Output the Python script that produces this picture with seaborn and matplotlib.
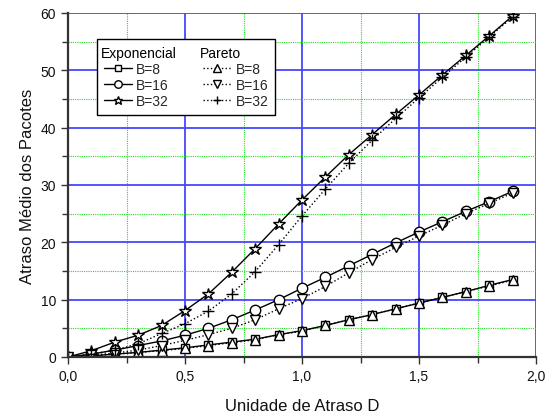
import numpy as np
import pandas as pd
import matplotlib
matplotlib.use("Agg")
import matplotlib.pyplot as plt
from matplotlib.lines import Line2D
from matplotlib.ticker import MultipleLocator, FuncFormatter
import seaborn as sns

# Delay unit D
delay_unit = [0.0, 0.1, 0.2, 0.3, 0.4, 0.5, 0.6, 0.7, 0.8, 0.9,
              1.0, 1.1, 1.2, 1.3, 1.4, 1.5, 1.6, 1.7, 1.8, 1.9]

# Mean packet delay, exponential traffic
exp_b8 = [0.0, 0.2, 0.5, 0.8, 1.2, 1.6, 2.1, 2.6, 3.1, 3.9,
          4.6, 5.5, 6.5, 7.4, 8.4, 9.4, 10.4, 11.4, 12.5, 13.5]
exp_b16 = [0.0, 0.5, 1.2, 2.0, 2.8, 3.8, 5.0, 6.5, 8.2, 10.0,
           12.0, 13.9, 15.9, 17.9, 19.9, 21.8, 23.6, 25.4, 27.1, 28.9]
exp_b32 = [0.0, 1.1, 2.6, 3.8, 5.5, 8.1, 11.0, 14.8, 18.9, 23.2,
           27.4, 31.4, 35.3, 38.8, 42.3, 45.7, 49.2, 52.6, 56.0, 59.5]

# Mean packet delay, Pareto traffic
par_b8 = [0.0, 0.2, 0.5, 0.8, 1.1, 1.5, 2.0, 2.5, 3.0, 3.9,
          4.5, 5.5, 6.5, 7.4, 8.4, 9.4, 10.4, 11.4, 12.4, 13.4]
par_b16 = [0.0, 0.3, 0.7, 1.2, 2.0, 2.9, 3.9, 5.0, 6.5, 8.4,
           10.2, 12.3, 14.7, 17.0, 19.1, 21.1, 23.0, 25.0, 26.8, 28.6]
par_b32 = [0.0, 0.5, 1.2, 2.3, 4.1, 5.8, 8.0, 11.0, 14.9, 19.6,
           24.6, 29.3, 33.8, 37.8, 41.6, 45.2, 48.8, 52.3, 55.8, 59.3]

buffer_labels = ["B=8", "B=16", "B=32"]
headers = ["Exponencial", "Pareto"]
x_label = "Unidade de Atraso D"
y_label = "Atraso Médio dos Pacotes"

sns.set_theme(style="white")
plt.rcParams["font.family"] = ["Liberation Sans", "DejaVu Sans"]

fig = plt.figure(figsize=(5.48, 4.14), dpi=100)
ax = fig.add_axes([68 / 548, 56 / 414, 468 / 548, 344 / 414])

series = [
    (exp_b8, "s", "-", 6.0),
    (exp_b16, "o", "-", 7.5),
    (exp_b32, "*", "-", 9.0),
    (par_b8, "^", ":", 7.5),
    (par_b16, "v", ":", 7.5),
    (par_b32, "+", ":", 8.0),
]

for vals, mk, ls, ms in series:
    df = pd.DataFrame({"D": delay_unit, "atraso": vals})
    sns.lineplot(data=df, x="D", y="atraso", ax=ax, color="black",
                 linestyle=ls, linewidth=1.0, marker=mk, markersize=ms,
                 markerfacecolor="white", markeredgecolor="black",
                 markeredgewidth=1.0, zorder=3, legend=False)

ax.set_xlim(0, 2.0)
ax.set_ylim(0, 60)
ax.xaxis.set_major_locator(MultipleLocator(0.5))
ax.xaxis.set_minor_locator(MultipleLocator(0.25))
ax.yaxis.set_major_locator(MultipleLocator(10))
ax.yaxis.set_minor_locator(MultipleLocator(5))
ax.xaxis.set_major_formatter(FuncFormatter(lambda v, p: f"{v:.1f}".replace(".", ",")))
ax.yaxis.set_major_formatter(FuncFormatter(lambda v, p: f"{v:.0f}"))

ax.grid(True, which="major", color="#4646ff", linewidth=1.3, linestyle="-")
ax.grid(True, which="minor", color="#22dd22", linewidth=0.8, linestyle=(0, (1, 1)))
ax.set_axisbelow(True)

for side in ["top", "right"]:
    ax.spines[side].set_visible(False)
for side in ["left", "bottom"]:
    ax.spines[side].set_color("#333333")
    ax.spines[side].set_linewidth(1.6)
    ax.spines[side].set_zorder(4)

ax.tick_params(which="major", direction="out", length=5, width=1.0,
               color="#333333", labelsize=10, labelcolor="#111111",
               bottom=True, left=True)
ax.tick_params(which="minor", direction="out", length=4, width=1.0,
               color="#333333", bottom=True, left=True)

ax.set_xlabel(x_label, fontsize=12, labelpad=11, color="#111111")
ax.set_ylabel(y_label, fontsize=12, labelpad=4, color="#111111")

# Two-column legend with a header row for each traffic model
blank = Line2D([], [], linestyle="none", marker="none")
handles = [blank]
for vals, mk, ls, ms in series[:3]:
    handles.append(Line2D([], [], color="black", linestyle=ls, linewidth=1.0,
                          marker=mk, markersize=ms * 0.72, markerfacecolor="white",
                          markeredgecolor="black"))
handles.append(blank)
for vals, mk, ls, ms in series[3:]:
    handles.append(Line2D([], [], color="black", linestyle=ls, linewidth=1.0,
                          marker=mk, markersize=ms * 0.72, markerfacecolor="white",
                          markeredgecolor="black"))
labels = [" "] + buffer_labels + [" "] + buffer_labels

leg = ax.legend(handles, labels, ncol=2, loc="upper left",
                bbox_to_anchor=(29 / 468, 318 / 344), borderaxespad=0,
                fontsize=10, handlelength=2.0, handletextpad=0.3,
                columnspacing=2.5, labelspacing=0.15, borderpad=0.5,
                frameon=True, fancybox=False, framealpha=1.0,
                edgecolor="black")
leg.get_frame().set_linewidth(1.0)
leg.set_zorder(5)

fig.canvas.draw()
renderer = fig.canvas.get_renderer()
leg_lines = leg.get_lines()
leg_texts = leg.get_texts()
for col, head in enumerate(headers):
    ref_line = leg_lines[col * 4 + 1].get_window_extent(renderer)
    row_text = leg_texts[col * 4].get_window_extent(renderer)
    ax.annotate(head, xy=(ref_line.x0, (row_text.y0 + row_text.y1) / 2),
                xycoords="figure pixels", ha="left", va="center",
                fontsize=10, color="black", zorder=6)

fig.savefig("out.png", dpi=100)
